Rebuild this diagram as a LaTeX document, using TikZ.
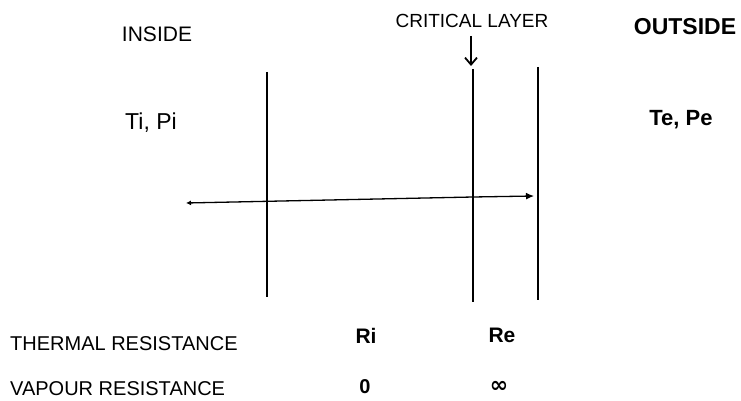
\documentclass[tikz,border=0pt]{standalone}
\usepackage{fontspec}
\setmainfont{Liberation Sans}
\newfontfamily\symfont{DejaVu Sans}
\usetikzlibrary{arrows.meta}
\begin{document}
\begin{tikzpicture}[x=1pt,y=-1pt,
  lbl/.style={inner sep=0pt,anchor=base,text=black},
  wall/.style={line width=1.7pt,black},
  flow/.style={line width=1.3pt,black}]
\useasboundingbox (0,0) rectangle (741,401);
% labels
\node[lbl,font=\fontsize{21}{21}\selectfont] (inside) at (157,42) {INSIDE};
\node[lbl,font=\fontsize{19}{19}\selectfont] (crit) at (472,28) {CRITICAL LAYER};
\node[lbl,font=\fontsize{23}{23}\selectfont\bfseries] (outside) at (685,35) {OUTSIDE};
\node[lbl,font=\fontsize{23}{23}\selectfont] (tipi) at (151,130) {Ti, Pi};
\node[lbl,font=\fontsize{22}{22}\selectfont\bfseries] (tepe) at (681,125) {Te, Pe};
\node[lbl,anchor=base west,font=\fontsize{20}{20}\selectfont] (thermal) at (10,350) {THERMAL RESISTANCE};
\node[lbl,anchor=base west,font=\fontsize{20}{20}\selectfont] (vapour) at (10,395) {VAPOUR RESISTANCE};
\node[lbl,font=\fontsize{21}{21}\selectfont\bfseries] (ri) at (366,343) {Ri};
\node[lbl,font=\fontsize{21}{21}\selectfont\bfseries] (re) at (502,342) {Re};
\node[lbl,font=\fontsize{20}{20}\selectfont\bfseries] (zero) at (365,393) {0};
\node[lbl,font=\fontsize{22}{22}\selectfont\bfseries\symfont] (inf) at (499,392) {∞};
% walls
\coordinate (w1t) at (267,72);  \coordinate (w1b) at (267,297);
\coordinate (w2t) at (473,69);  \coordinate (w2b) at (473,302);
\coordinate (w3t) at (538,67);  \coordinate (w3b) at (538,300);
\draw[wall] (w1t) -- (w1b);
\draw[wall] (w2t) -- (w2b);
\draw[wall] (w3t) -- (w3b);
% critical layer pointer
\coordinate (ct) at (471,36);
\coordinate (cb) at (471,66);
\draw[line width=1.6pt,-{Straight Barb[length=7pt,width=12pt,line width=1.8pt]}] (ct) -- (cb);
% flow arrow
\coordinate (fl) at (186,203);
\coordinate (fm) at (473,197);
\coordinate (fr) at (534,196);
\draw[flow,{Latex[length=5pt,width=5pt]}-{Latex[length=8pt,width=7pt]}] (fl) -- (fm) -- (fr);
\end{tikzpicture}
\end{document}
